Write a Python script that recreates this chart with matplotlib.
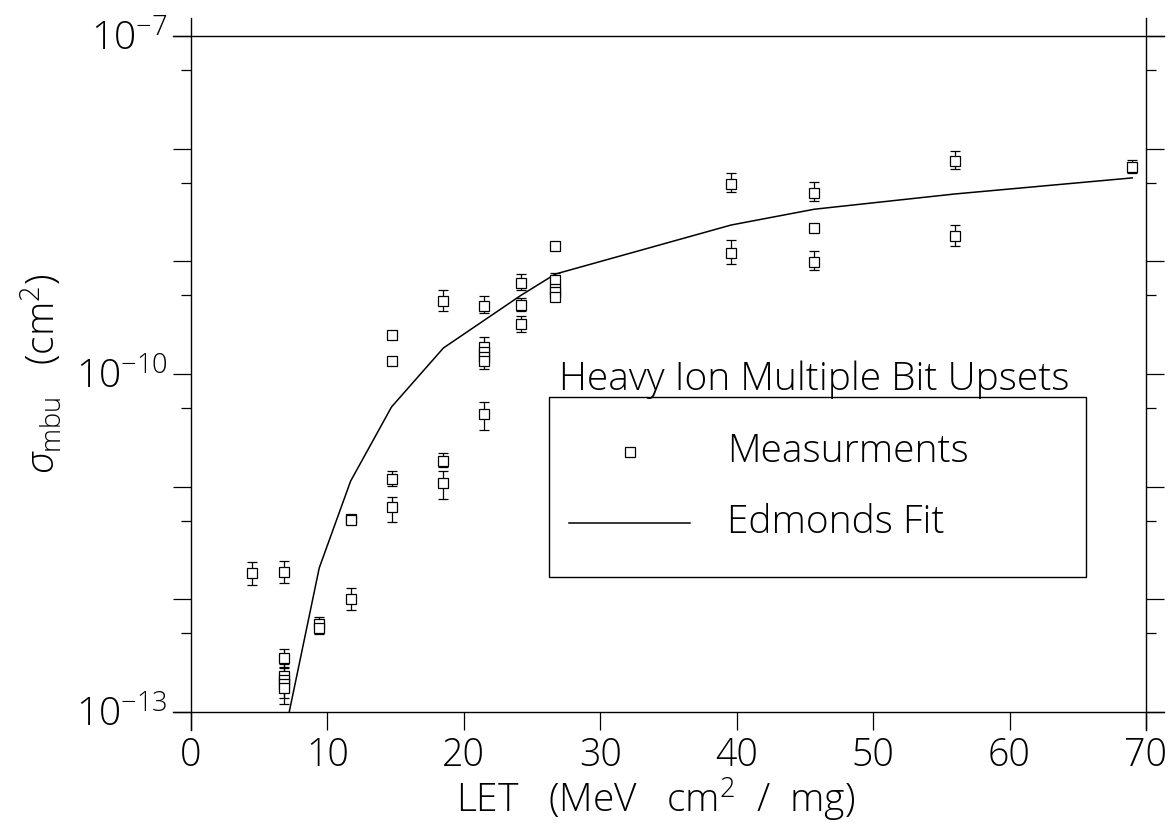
import numpy as np
import matplotlib
matplotlib.use("Agg")
import matplotlib.pyplot as plt
from matplotlib.ticker import FixedLocator, FixedFormatter, LogLocator, NullFormatter
from matplotlib.lines import Line2D
from matplotlib.patches import Rectangle

plt.rcParams['font.family'] = ['Open Sans', 'DejaVu Sans']
plt.rcParams['font.weight'] = 'light'
plt.rcParams['axes.labelweight'] = 'light'
plt.rcParams['mathtext.fontset'] = 'custom'
plt.rcParams['mathtext.rm'] = 'Open Sans:light'
plt.rcParams['mathtext.it'] = 'Open Sans:light:italic'

# mesures (LET, sigma, erreur basse, erreur haute)
let_pts = [4.5, 6.8, 6.8, 6.8, 6.8, 6.8, 6.8, 9.4, 9.4, 11.7, 11.7, 11.7,
           14.7, 14.7, 14.7, 14.7, 18.5, 18.5, 18.5,
           21.5, 21.5, 21.5, 21.5, 21.5, 21.5,
           24.2, 24.2, 24.2, 26.7, 26.7, 26.7, 26.7, 26.7,
           39.6, 39.6, 45.7, 45.7, 45.7, 56.0, 56.0, 69.0]
sigma_pts = [1.7e-12, 1.75e-12, 3.0e-13, 2.1e-13, 1.92e-13, 1.77e-13, 1.63e-13, 6.0e-13, 5.6e-13, 1.0e-12, 5.2e-12, 5.1e-12,
             2.2e-10, 1.3e-10, 1.17e-11, 6.6e-12, 4.45e-10, 1.69e-11, 1.08e-11,
             4.0e-10, 1.74e-10, 1.57e-10, 1.42e-10, 1.3e-10, 4.4e-11,
             6.4e-10, 4.1e-10, 2.78e-10, 1.37e-9, 6.8e-10, 5.7e-10, 5.35e-10, 4.8e-10,
             4.85e-9, 1.19e-9, 4.05e-9, 1.98e-9, 9.9e-10, 7.8e-9, 1.68e-9, 6.87e-9]
err_lo = [0.35e-12, 0.35e-12, 0.5e-13, 0.45e-13, 0.4e-13, 0.45e-13, 0.45e-13, 0.8e-13, 0.7e-13, 0.2e-12, 0.2e-12, 0.2e-12,
          0.0, 0.0, 0.15e-11, 1.7e-12, 0.8e-10, 0.2e-11, 0.3e-11,
          0.5e-10, 0.2e-10, 0.25e-10, 0.2e-10, 0.2e-10, 1.2e-11,
          0.8e-10, 0.5e-10, 0.4e-10, 0.0, 0.5e-10, 0.4e-10, 0.3e-10, 0.3e-10,
          0.7e-9, 0.25e-9, 0.6e-9, 0.0, 1.6e-10, 1.2e-9, 0.3e-9, 0.8e-9]
err_hi = [0.45e-12, 0.45e-12, 0.6e-13, 0.55e-13, 0.55e-13, 0.5e-13, 0.5e-13, 1.0e-13, 0.9e-13, 0.25e-12, 0.25e-12, 0.25e-12,
          0.0, 0.0, 0.2e-11, 1.5e-12, 1.1e-10, 0.3e-11, 0.3e-11,
          0.9e-10, 0.4e-10, 0.2e-10, 0.2e-10, 0.3e-10, 1.2e-11,
          1.3e-10, 0.6e-10, 0.5e-10, 0.0, 1.0e-10, 0.3e-10, 0.3e-10, 0.3e-10,
          1.2e-9, 0.35e-9, 1.0e-9, 0.0, 2.5e-10, 1.8e-9, 0.4e-9, 1.1e-9]

# ajustement d'Edmonds
fit_let = [7.2, 9.4, 11.7, 14.7, 18.5, 21.5, 24.2, 26.7, 39.6, 45.7, 56.0, 69.0]
fit_sigma = [1.0e-13, 1.9e-12, 1.12e-11, 5.1e-11, 1.7e-10, 3.0e-10, 5.0e-10, 7.7e-10, 2.1e-9, 2.9e-9, 3.96e-9, 5.5e-9]

y_major = [1e-13, 1e-12, 1e-11, 1e-10, 1e-9, 1e-8, 1e-7]
y_labels = [r'$\mathregular{10^{-13}}$', '', '', r'$\mathregular{10^{-10}}$', '', '', r'$\mathregular{10^{-7}}$']
x_ticks = [0, 10, 20, 30, 40, 50, 60, 70]

fig = plt.figure(figsize=(11.74, 8.23), dpi=100)
ax = fig.add_axes([0.1627, 0.1349, 0.8134, 0.8214])

ax.errorbar(let_pts, sigma_pts, yerr=[err_lo, err_hi], fmt='s', mfc='white', mec='black',
            ms=7, mew=0.9, ecolor='black', elinewidth=0.9, capsize=3.6, capthick=0.9, zorder=3)
ax.plot(fit_let, fit_sigma, color='black', lw=1.1, zorder=2)

ax.set_yscale('log')
ax.set_xlim(0, 70)
ax.set_ylim(1e-13, 1e-7)

ax.yaxis.set_major_locator(FixedLocator(y_major))
ax.yaxis.set_major_formatter(FixedFormatter(y_labels))
ax.yaxis.set_minor_locator(LogLocator(base=10, subs=[5.0], numticks=20))
ax.yaxis.set_minor_formatter(NullFormatter())
ax.set_xticks(x_ticks)
ax.xaxis.set_minor_locator(FixedLocator([]))

ax.tick_params(axis='x', which='major', direction='out', length=13, width=0.9, labelsize=27, pad=5, top=False)
ax.tick_params(axis='y', which='major', direction='out', length=13, width=0.9, labelsize=28, pad=4,
               left=True, right=True)
ax.tick_params(axis='y', which='minor', direction='out', length=7, width=0.9, left=True, right=True)

for s in ax.spines.values():
    s.set_visible(False)
dx, dy = 0.0188, 0.0266
frame = [((-dx, 1 + dx), (0, 0)), ((-dx, 1 + dx), (1, 1)),
         ((0, 0), (-dy, 1 + dy)), ((1, 1), (-dy, 1 + dy))]
for xs, ys in frame:
    ax.add_line(Line2D(xs, ys, transform=ax.transAxes, color='black', lw=1.0, clip_on=False))

ax.set_xlabel(r'LET   (MeV   cm$^{\mathregular{2}}$  /  mg)', fontsize=28, labelpad=0)
ax.xaxis.set_label_coords(0.487, -0.095)
ax.set_ylabel(r'$\mathit{\sigma}_{\mathregular{mbu}}$   (cm$^{\mathregular{2}}$)', fontsize=28, labelpad=8)

# légende
ax.text(0.653, 0.491, 'Heavy Ion Multiple Bit Upsets', transform=ax.transAxes,
        fontsize=28, ha='center', va='center')
ax.add_patch(Rectangle((0.375, 0.2), 0.562, 0.266, transform=ax.transAxes,
                       fill=False, ec='black', lw=1.0))
ax.plot([0.46], [0.385], 's', mfc='white', mec='black', ms=7, mew=0.9, transform=ax.transAxes)
ax.text(0.561, 0.385, 'Measurments', transform=ax.transAxes, fontsize=28, va='center')
ax.plot([0.396, 0.523], [0.28, 0.28], color='black', lw=1.1, transform=ax.transAxes)
ax.text(0.561, 0.28, 'Edmonds Fit', transform=ax.transAxes, fontsize=28, va='center')

fig.savefig('out.png', dpi=100)
